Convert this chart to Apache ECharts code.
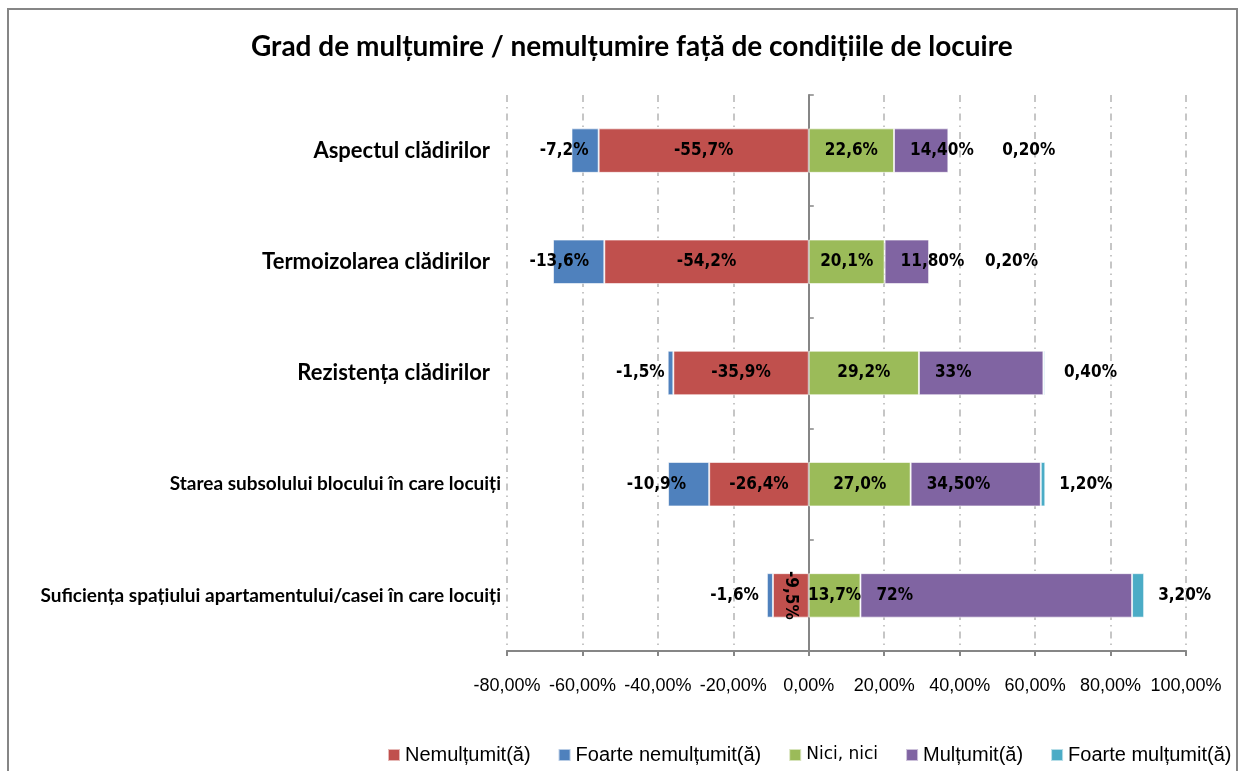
<!DOCTYPE html>
<html>
<head>
<meta charset="utf-8">
<script src="https://cdn.jsdelivr.net/npm/echarts@6/dist/echarts.min.js"></script>
<style>
  html, body { margin: 0; padding: 0; background: #fff; }
  #chart { width: 1240px; height: 771px; }
</style>
</head>
<body>
<div id="chart"></div>
<script>
// categories, top to bottom
const categories = [
  'Aspectul clădirilor',
  'Termoizolarea clădirilor',
  'Rezistența clădirilor',
  'Starea subsolului blocului în care locuiți',
  'Suficiența spațiului apartamentului/casei în care locuiți'
];
const seriesNames = ['Nemulțumit(ă)', 'Foarte nemulțumit(ă)', 'Nici, nici', 'Mulțumit(ă)', 'Foarte mulțumit(ă)'];

// values in percent
const nemultumit = [-55.7, -54.2, -35.9, -26.4, -9.5];
const foarteNemultumit = [-7.2, -13.6, -1.5, -10.9, -1.6];
const niciNici = [22.6, 20.1, 29.2, 27.0, 13.7];
const multumit = [14.4, 11.8, 33, 34.5, 72];
const foarteMultumit = [0.2, 0.2, 0.4, 1.2, 3.2];

// decimals shown in the data labels
const multumitDecimals = [2, 2, 0, 2, 0];

const xTicks = { min: -80, max: 100, step: 20 };

// label nudges (px) for the outer labels, as placed in the source chart
const blueLabelShift = [17, 36, -3, 18, -8];
const cyanLabelGap = [53, 55, 19, 14, 14];

const colors = ['#C0504D', '#4F81BD', '#9BBB59', '#8064A2', '#4BACC6'];

const pct = (v, d) => v.toFixed(d).replace('.', ',') + '%';

const labelFont = {
  fontFamily: '"DejaVu Sans Condensed", Lato, sans-serif',
  fontWeight: 'bold',
  fontSize: 17,
  color: '#000'
};

const barBase = {
  type: 'bar',
  stack: 'total',
  barWidth: '40%',
  itemStyle: { borderColor: 'rgba(255,255,255,0.6)', borderWidth: 1 }
};

const chart = echarts.init(document.getElementById('chart'));

const option = {
  animation: false,
  color: colors,
  title: {
    text: 'Grad de mulțumire / nemulțumire față de condițiile de locuire',
    left: 246,
    top: 28,
    textStyle: { fontFamily: 'Lato', fontWeight: 'bold', fontSize: 28, color: '#000' }
  },
  graphic: [{
    type: 'rect',
    shape: { x: 8, y: 9, width: 1229, height: 800 },
    style: { fill: 'none', stroke: '#868686', lineWidth: 2 },
    silent: true
  }],
  legend: {
    left: 382,
    top: 740,
    width: 900,
    itemGap: 27,
    itemWidth: 12,
    itemHeight: 12,
    icon: 'rect',
    data: seriesNames,
    formatter: name => name === 'Nici, nici' ? '{v|' + name + '}' : name,
    textStyle: {
      fontFamily: '"Liberation Sans", Arial, sans-serif',
      fontSize: 20,
      color: '#000',
      rich: { v: { fontFamily: '"DejaVu Sans", sans-serif', fontSize: 17, color: '#000' } }
    }
  },
  grid: { left: 507, right: 54, top: 95, bottom: 120 },
  xAxis: {
    type: 'value',
    min: xTicks.min,
    max: xTicks.max,
    interval: xTicks.step,
    axisLine: { show: true, lineStyle: { color: '#868686', width: 2 } },
    axisTick: { show: true, length: 5, lineStyle: { color: '#868686', width: 2 } },
    axisLabel: {
      margin: 26,
      fontFamily: '"Liberation Sans", Arial, sans-serif',
      fontSize: 18,
      color: '#000',
      formatter: v => pct(v, 2)
    },
    splitLine: {
      show: true,
      lineStyle: { color: '#b4b4b4', width: 1.5, type: [7, 5, 1.5, 5] }
    }
  },
  yAxis: [
    {
      type: 'category',
      inverse: true,
      data: categories,
      axisLine: { show: false, onZero: false },
      axisTick: { show: false },
      axisLabel: {
        margin: 0,
        formatter: (v, i) => i < 3 ? '{b|' + v + '}' : '{s|' + v + '}',
        rich: {
          b: { fontFamily: 'Lato', fontWeight: 'bold', fontSize: 22, color: '#000', padding: [0, 17, 0, 0] },
          s: { fontFamily: 'Lato', fontWeight: 'bold', fontSize: 19, color: '#000', padding: [0, 6, 0, 0] }
        }
      }
    },
    {
      type: 'category',
      inverse: true,
      data: categories,
      axisLine: { show: true, onZero: true, onZeroAxisIndex: 0, lineStyle: { color: '#868686', width: 2 } },
      axisTick: { show: true, length: 5, lineStyle: { color: '#868686', width: 1.5 } },
      axisLabel: { show: false }
    }
  ],
  series: [
    Object.assign({}, barBase, {
      name: seriesNames[0],
      data: nemultumit.map(v => ({
        value: v,
        label: Math.abs(v) < 12 ? { rotate: -90 } : {}
      })),
      label: Object.assign({ show: true, position: 'inside', formatter: p => pct(p.value, 1) }, labelFont)
    }),
    Object.assign({}, barBase, {
      name: seriesNames[1],
      data: foarteNemultumit.map((v, i) => ({
        value: v,
        label: { offset: [blueLabelShift[i], 0] }
      })),
      label: Object.assign({ show: true, position: 'left', distance: 0, formatter: p => pct(p.value, 1) }, labelFont)
    }),
    Object.assign({}, barBase, {
      name: seriesNames[2],
      data: niciNici,
      label: Object.assign({ show: true, position: 'inside', formatter: p => pct(p.value, 1) }, labelFont)
    }),
    Object.assign({}, barBase, {
      name: seriesNames[3],
      data: multumit,
      label: Object.assign({
        show: true,
        position: 'insideLeft',
        distance: 16,
        formatter: p => pct(p.value, multumitDecimals[p.dataIndex])
      }, labelFont)
    }),
    Object.assign({}, barBase, {
      name: seriesNames[4],
      data: foarteMultumit.map((v, i) => ({
        value: v,
        label: { distance: cyanLabelGap[i] }
      })),
      label: Object.assign({ show: true, position: 'right', formatter: p => pct(p.value, 2) }, labelFont)
    })
  ]
};

chart.setOption(option);
</script>
</body>
</html>
